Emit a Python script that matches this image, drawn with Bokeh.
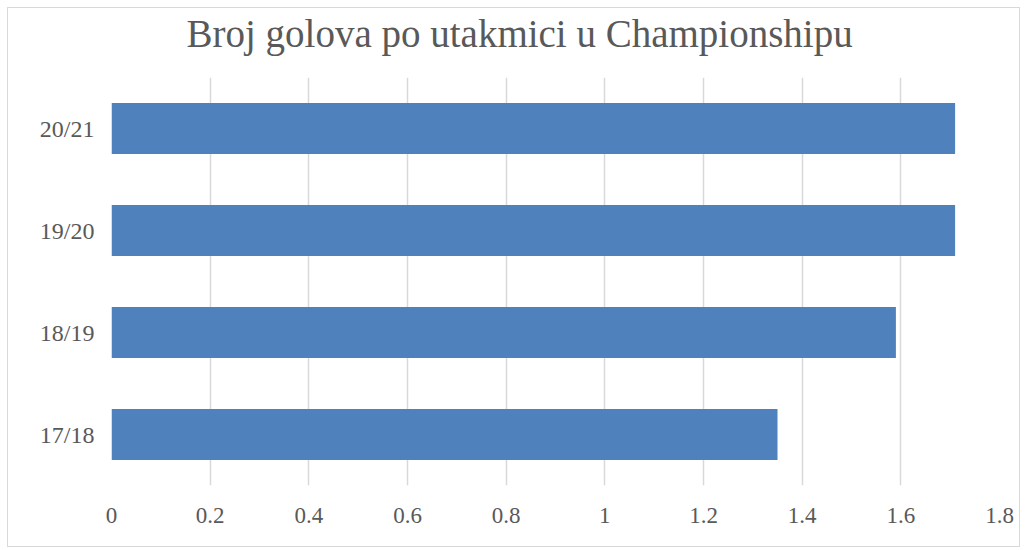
from bokeh.plotting import figure
from bokeh.models import Range1d, FixedTicker, Title
from bokeh.embed import file_html
from bokeh.resources import INLINE

seasons = ["17/18", "18/19", "19/20", "20/21"]
goals = [1.35, 1.59, 1.71, 1.71]
x_ticks = [0, 0.2, 0.4, 0.6, 0.8, 1.0, 1.2, 1.4, 1.6, 1.8]
title_text = "Broj golova po utakmici u Championshipu"

FONT = "Liberation Serif"
GREY = "#595959"

p = figure(width=1013, height=540, y_range=seasons, x_range=Range1d(0, 1.8),
           output_backend="svg", toolbar_location=None,
           min_border_left=103, min_border_right=22, min_border_top=69, min_border_bottom=63)
p.styles = {"border": "1px solid #d9d9d9", "margin-left": "7px", "margin-top": "7px"}
p.outline_line_color = None

p.hbar(y=seasons, right=goals, left=0, height=0.5, color="#4f81bd", line_color=None)

p.title = None
# spacer panel between the frame and the title
spacer = Title(text=" ", text_font_size="1px", standoff=20, text_color="white")
p.add_layout(spacer, "above")
t = Title(text=title_text, align="left", vertical_align="bottom", text_font=FONT,
          text_font_size="39px", text_color=GREY, text_font_style="normal",
          offset=75, standoff=0)
p.add_layout(t, "above")

p.xaxis.ticker = FixedTicker(ticks=x_ticks)
p.xaxis.major_label_overrides = {0: "0", 1.0: "1"}
p.xaxis.axis_line_color = None
p.xaxis.major_tick_line_color = None
p.xaxis.minor_tick_line_color = None
p.xaxis.major_label_text_font = FONT
p.xaxis.major_label_text_font_size = "23px"
p.xaxis.major_label_text_color = GREY
p.xaxis.major_label_standoff = 16

p.yaxis.axis_line_color = None
p.yaxis.major_tick_line_color = None
p.yaxis.major_label_text_font = FONT
p.yaxis.major_label_text_font_size = "24px"
p.yaxis.major_label_text_color = GREY
p.yaxis.major_label_standoff = 11

p.xgrid.grid_line_color = "#d9d9d9"
p.xgrid.grid_line_width = 1.5
p.ygrid.grid_line_color = None

open("out.html", "w").write(file_html(p, INLINE))
